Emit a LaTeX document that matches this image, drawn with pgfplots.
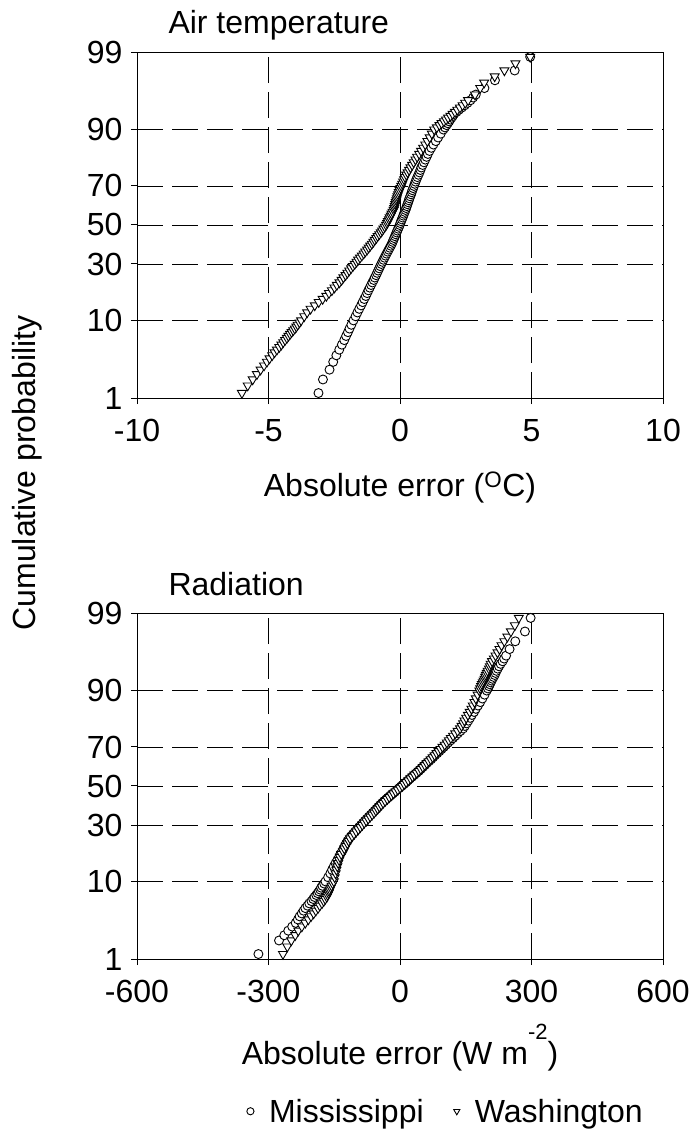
\documentclass[border=0pt]{standalone}
\usepackage{fontspec}
\setmainfont{Liberation Sans}
\usepackage{pgfplots}
\usepackage{pgfplotstable}
\pgfplotsset{compat=1.18}

% columns: cumulative probability (%), absolute error
% Air temperature, Mississippi
\pgfplotstableread{
p x
1.2 -3.10
1.9 -2.93
2.6 -2.68
3.3 -2.54
4.0 -2.42
4.7 -2.31
5.4 -2.21
6.1 -2.12
6.8 -2.05
7.5 -1.98
8.2 -1.92
9.0 -1.85
10 -1.77
11 -1.69
12 -1.62
13 -1.55
14 -1.48
15 -1.42
16 -1.36
17 -1.30
18 -1.25
19 -1.20
20 -1.15
21 -1.10
22 -1.05
23 -1.00
24 -0.96
25 -0.91
26 -0.87
27 -0.83
28 -0.79
29 -0.75
30 -0.71
31 -0.67
32 -0.63
33 -0.59
34 -0.55
35 -0.51
36 -0.47
37 -0.43
38 -0.39
39 -0.35
40 -0.31
41 -0.28
42 -0.25
43 -0.22
44 -0.19
45 -0.16
46 -0.13
47 -0.10
48 -0.07
49 -0.04
50 -0.01
51 0.015
52 0.04
53 0.07
54 0.10
55 0.125
56 0.15
57 0.18
58 0.21
59 0.235
60 0.26
61 0.285
62 0.31
63 0.335
64 0.36
65 0.39
66 0.42
67 0.445
68 0.47
69 0.50
70 0.53
71 0.56
72 0.59
73 0.625
74 0.66
75 0.70
76 0.74
77 0.775
78 0.81
79 0.86
80 0.91
81 0.96
82 1.01
83 1.06
84 1.12
85 1.19
86 1.27
87 1.36
88 1.45
89 1.55
90 1.65
90.5 1.71
91.0 1.77
91.4 1.82
91.8 1.87
92.15 1.91
92.5 1.96
92.85 2.01
93.2 2.06
93.55 2.15
93.9 2.24
94.25 2.35
94.6 2.46
94.95 2.57
95.3 2.68
95.65 2.78
96.0 2.88
96.7 3.21
97.4 3.61
98.1 4.36
98.8 4.95
}\airMiss

% Air temperature, Washington
\pgfplotstableread{
p x
1.2 -6.01
1.55 -5.79
1.9 -5.60
2.25 -5.44
2.6 -5.30
2.95 -5.17
3.3 -5.06
3.65 -4.96
4.0 -4.86
4.35 -4.77
4.7 -4.68
5.05 -4.59
5.4 -4.51
5.75 -4.44
6.1 -4.37
6.45 -4.30
6.8 -4.24
7.15 -4.18
7.5 -4.12
7.85 -4.06
8.2 -4.00
8.6 -3.94
9.0 -3.89
9.5 -3.82
10 -3.76
11 -3.64
12 -3.53
13 -3.40
14 -3.24
15 -3.09
16 -2.94
17 -2.80
18 -2.70
19 -2.59
20 -2.49
21 -2.40
22 -2.30
23 -2.22
24 -2.15
25 -2.07
26 -2.00
27 -1.93
28 -1.86
29 -1.79
30 -1.72
31 -1.65
32 -1.59
33 -1.52
34 -1.45
35 -1.38
36 -1.32
37 -1.25
38 -1.19
39 -1.13
40 -1.07
41 -1.01
42 -0.96
43 -0.90
44 -0.85
45 -0.79
46 -0.73
47 -0.68
48 -0.63
49 -0.58
50 -0.53
51 -0.49
52 -0.46
53 -0.42
54 -0.39
55 -0.35
56 -0.32
57 -0.28
58 -0.24
59 -0.22
60 -0.20
61 -0.18
62 -0.16
63 -0.14
64 -0.12
65 -0.10
66 -0.075
67 -0.045
68 -0.015
69 0.02
70 0.05
71 0.085
72 0.12
73 0.155
74 0.19
75 0.24
76 0.29
77 0.345
78 0.40
79 0.46
80 0.52
81 0.59
82 0.65
83 0.73
84 0.80
85 0.88
86 0.96
87 1.04
88 1.13
89 1.21
90 1.30
90.5 1.40
91.0 1.50
91.4 1.58
91.8 1.67
92.15 1.75
92.5 1.83
92.85 1.92
93.2 2.00
93.55 2.09
93.9 2.18
94.25 2.28
94.6 2.38
94.95 2.48
95.3 2.59
96.0 2.85
96.7 3.05
97.2 3.20
97.7 3.60
98.1 3.97
98.5 4.39
98.8 4.95
}\airWash

% Radiation, Mississippi
\pgfplotstableread{
p x
1.2 -323
1.9 -276
2.25 -264
2.6 -255
2.95 -246
3.3 -238
3.65 -233
4.0 -229
4.35 -224
4.7 -220
5.05 -216
5.4 -211
5.75 -207
6.1 -202
6.45 -198
6.8 -195
7.15 -191
7.5 -188
7.85 -185
8.2 -182
8.6 -180
9.0 -177
9.5 -173
10 -170
11 -164
12 -159
13 -155
14 -151
15 -147
16 -143
17 -139
18 -136
19 -132
20 -129
21 -126
22 -123
23 -119.5
24 -116
25 -111.5
26 -107
27 -102.5
28 -98
29 -93.5
30 -89
31 -84.5
32 -80
33 -75.5
34 -71
35 -66.5
36 -62
37 -57.5
38 -53
39 -49
40 -45
41 -40.5
42 -36
43 -31
44 -26
45 -21
46 -16
47 -11
48 -6
49 -1
50 4
51 9
52 14
53 18.5
54 23
55 28
56 33
57 38
58 43
59 47.5
60 52
61 56.5
62 61
63 66
64 71
65 75.5
66 80
67 85
68 90
69 95
70 100
71 105
72 110
73 115.5
74 121
75 126.5
76 132
77 138
78 144
79 148
80 152
81 156
82 160
83 164
84 169
85 173
86 178
87 183
88 188
89 193
90 198
90.5 200.5
91.0 203
91.4 205
91.8 207
92.15 209
92.5 211
92.85 213.5
93.2 216
93.55 218
93.9 220
94.25 223
94.6 226
94.95 229.6
95.3 234
95.65 237.5
96.0 242
96.7 250
97.4 263
98.1 285
98.8 298
}\radMiss

% Radiation, Washington
\pgfplotstableread{
p x
1.2 -267
1.55 -257
1.9 -248
2.25 -239
2.6 -232
2.95 -224
3.3 -216
3.65 -209
4.0 -203
4.35 -197
4.7 -192
5.05 -187
5.4 -183
5.75 -178
6.1 -174
6.45 -170.5
6.8 -167
7.15 -165
7.5 -163
7.85 -161.5
8.2 -160
8.6 -158
9.0 -156
9.5 -153.5
10 -151
11 -149
12 -147
13 -145
14 -143
15 -141
16 -139
17 -137
18 -134
19 -130
20 -127
21 -123.5
22 -120
23 -117
24 -114
25 -109.5
26 -105
27 -100
28 -95
29 -90.5
30 -86
31 -81.5
32 -77
33 -72.5
34 -68
35 -63.5
36 -59
37 -55
38 -51
39 -47
40 -43
41 -38.5
42 -34
43 -29
44 -24.5
45 -19.5
46 -15
47 -10
48 -5
49 0
50 5
51 9.5
52 14
53 19
54 24
55 28.5
56 33
57 38
58 43
59 47.5
60 52
61 56.5
62 61
63 65.5
64 70
65 74.5
66 79
67 83.5
68 88
69 92.5
70 97
71 102
72 107
73 111.5
74 116
75 121
76 126
77 131.5
78 137
79 140.5
80 144
81 147
82 151
83 155
84 159
85 163
86 166
87 170
88 173
89 177
90 181
90.5 183
91.0 185
91.4 187
91.8 189
92.15 191
92.5 193
92.85 194.5
93.2 196
93.55 198
93.9 200
94.25 203
94.6 205
94.95 207
95.3 210
95.65 214
96.0 218
96.35 222.5
96.7 227
97.05 231.6
97.4 238
97.75 245
98.1 253
98.45 262
98.8 271
}\radWash

\pgfplotsset{
  probaxis/.style={
    width=526bp, height=346bp, scale only axis,
    ymin=1, ymax=99,
    ytick={1,10,30,50,70,90,99},
    yticklabels={1,10,30,50,70,90,99},
    y coord trafo/.code={%
      \pgfmathparse{##1/100}\let\pp\pgfmathresult
      \pgfmathparse{min(\pp,1-\pp)}\let\qq\pgfmathresult
      \pgfmathparse{sqrt(-2*ln(\qq))}\let\tq\pgfmathresult
      \pgfmathparse{\tq-(2.515517+0.802853*\tq+0.010328*\tq*\tq)/(1+1.432788*\tq+0.189269*\tq*\tq+0.001308*\tq*\tq*\tq)}\let\zq\pgfmathresult
      \pgfmathparse{\pp<0.5 ? -1*\zq : \zq}%
    },
    grid=major,
    major grid style={black, line width=0.9bp, dash pattern=on 26bp off 9bp},
    axis line style={black, line width=1bp},
    tick align=outside, major tick length=6bp,
    tick style={black, line width=1bp},
    xtick pos=bottom, ytick pos=left,
    /pgf/number format/assume math mode=true,
    xticklabel style={yshift=-12bp},
    yticklabel style={xshift=-5bp},
    legend cell align=left,
  },
  missplot/.style={only marks, mark=*, mark size=4.5bp,
    mark options={draw=black, fill=white, line width=0.9bp}},
  washplot/.style={only marks, mark=triangle*, mark size=5.2bp,
    mark options={draw=black, fill=white, line width=0.9bp, rotate=180}},
}

\begin{document}
\begin{tikzpicture}[font=\fontsize{32bp}{38bp}\selectfont]
\useasboundingbox (0,0) rectangle (690bp,-1134bp);

\begin{axis}[probaxis, at={(137bp,-52bp)}, anchor=north west,
  xmin=-10, xmax=10, xtick={-10,-5,0,5,10},
  xlabel={Absolute error (\textsuperscript{O}C)},
  xlabel style={at={(axis description cs:0.5,-0.286)}, anchor=base},
]
\addplot[missplot] table[x=x, y=p] {\airMiss};
\addplot[washplot] table[x=x, y=p] {\airWash};
\end{axis}

\begin{axis}[probaxis, at={(137bp,-613bp)}, anchor=north west,
  xmin=-600, xmax=600, xtick={-600,-300,0,300,600},
  xlabel={Absolute error (W m\raisebox{0.78em}{\fontsize{22bp}{24bp}\selectfont -2})},
  xlabel style={at={(axis description cs:0.5,-0.304)}, anchor=base},
  legend columns=2,
  legend style={at={(axis description cs:0.587,-0.44)}, anchor=center, draw=none,
    fill=none,
    /tikz/every odd column/.append style={column sep=13bp},
    /tikz/every even column/.append style={column sep=28bp}},
  legend image post style={mark size=3.6bp, line width=0.8bp},
]
\addplot[missplot] table[x=x, y=p] {\radMiss};
\addplot[washplot] table[x=x, y=p] {\radWash};
\legend{Mississippi, Washington}
\end{axis}

\node[anchor=base west] at (165bp,-33bp) {Air temperature};
\node[anchor=base west] at (165bp,-595bp) {Radiation};
\node[rotate=90, anchor=center] at (27bp,-473bp) {Cumulative probability};
\end{tikzpicture}
\end{document}
